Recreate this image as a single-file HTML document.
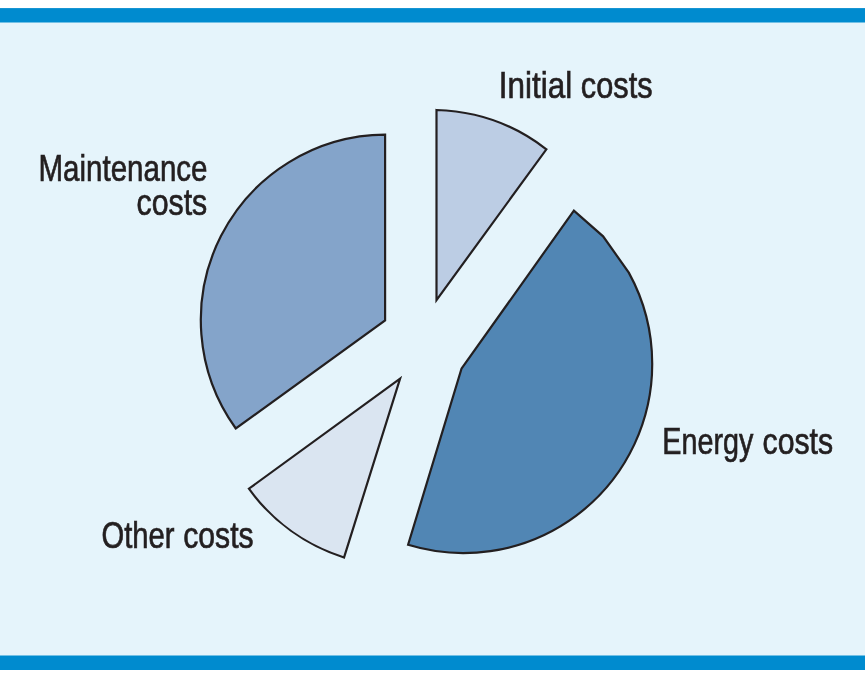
<!DOCTYPE html>
<html lang="en">
<head>
<meta charset="utf-8">
<title>Life cycle costs</title>
<style>
  html, body { margin: 0; padding: 0; background: #ffffff; }
  body { width: 865px; height: 678px; overflow: hidden; position: relative; }
  .panel { position: absolute; left: 0; top: 8px; width: 865px; height: 662px; background: #e5f4fb; }
  svg { position: absolute; left: 0; top: 0; }
  text { font-family: "Liberation Sans", sans-serif; font-size: 37.5px; fill: #231f20; stroke: #231f20; stroke-width: 0.7px; }
</style>
</head>
<body>
<div class="panel"></div>
<svg width="865" height="678" viewBox="0 0 865 678">
  <rect x="0" y="8.1" width="865" height="14.4" fill="#008bcf"/>
  <rect x="0" y="655.5" width="865" height="14.5" fill="#008bcf"/>
  <g stroke="#231f20" stroke-width="2.2" stroke-linejoin="miter" stroke-miterlimit="10">
    <!-- Maintenance costs -->
    <path d="M385.1 320.5 L385.1 134.6 A185.5 185.5 0 0 0 235.8 428.5 Z" fill="#84a4ca"/>
    <!-- Initial costs -->
    <path d="M436.5 300.1 L436.5 110 A188 188 0 0 1 546.4 149.3 Z" fill="#bccde4"/>
    <!-- Energy costs -->
    <path d="M461.5 368.7 L573.9 210.6 L603.1 236.3 L628.8 272.6 A188.8 188.8 0 0 1 652.2 363.5 A188.8 188.8 0 0 1 408.1 544.8 Z" fill="#5186b4"/>
    <!-- Other costs -->
    <path d="M400.1 378.6 L248.9 488.7 A187.5 187.5 0 0 0 344 557.5 Z" fill="#dae5f1"/>
  </g>
  <text><tspan x="498.77" y="98.3" textLength="73.35" lengthAdjust="spacingAndGlyphs">Initial</tspan> <tspan x="580.77" y="98.3" textLength="71.80" lengthAdjust="spacingAndGlyphs">costs</tspan></text>
  <text><tspan x="38.54" y="180.7" textLength="168.98" lengthAdjust="spacingAndGlyphs">Maintenance</tspan> <tspan x="136.51" y="215.2" textLength="70.78" lengthAdjust="spacingAndGlyphs">costs</tspan></text>
  <text><tspan x="101.52" y="548.0" textLength="73.01" lengthAdjust="spacingAndGlyphs">Other</tspan> <tspan x="183.18" y="548.0" textLength="70.43" lengthAdjust="spacingAndGlyphs">costs</tspan></text>
  <text><tspan x="662.30" y="453.9" textLength="91.00" lengthAdjust="spacingAndGlyphs">Energy</tspan> <tspan x="762.52" y="453.9" textLength="70.60" lengthAdjust="spacingAndGlyphs">costs</tspan></text>
</svg>
</body>
</html>
